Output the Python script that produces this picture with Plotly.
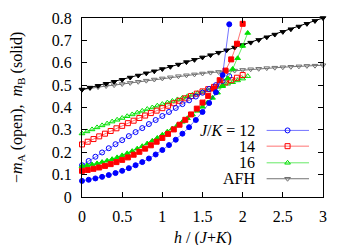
import plotly.graph_objects as go

# ---------------- data ----------------
h12 = [0, 0.083, 0.167, 0.25, 0.333, 0.417, 0.5, 0.583, 0.667, 0.75, 0.833, 0.917,
       1.0, 1.083, 1.167, 1.25, 1.333, 1.417, 1.5, 1.583, 1.667, 1.75, 1.833]
mB12 = [0.072, 0.077, 0.083, 0.090, 0.098, 0.107, 0.117, 0.129, 0.142, 0.156, 0.172, 0.190,
        0.210, 0.232, 0.256, 0.283, 0.312, 0.344, 0.380, 0.420, 0.468, 0.545, 0.772]
mA12 = [0.142, 0.161, 0.180, 0.199, 0.218, 0.236, 0.254, 0.272, 0.290, 0.308, 0.326, 0.344,
        0.362, 0.380, 0.398, 0.415, 0.432, 0.449, 0.466, 0.483, 0.500, 0.518, 0.540]

h14 = [0, 0.071, 0.143, 0.214, 0.286, 0.357, 0.429, 0.5, 0.571, 0.643, 0.714, 0.786,
       0.857, 0.929, 1.0, 1.071, 1.143, 1.214, 1.286, 1.357, 1.429, 1.5, 1.571, 1.643,
       1.714, 1.786, 1.857, 1.929, 2.0]
mB14 = [0.117, 0.121, 0.126, 0.132, 0.139, 0.147, 0.156, 0.166, 0.177, 0.189, 0.202, 0.216,
        0.231, 0.247, 0.264, 0.282, 0.302, 0.323, 0.345, 0.369, 0.395, 0.422, 0.452, 0.485,
        0.522, 0.565, 0.615, 0.685, 0.774]
mA14 = [0.235, 0.247, 0.259, 0.271, 0.283, 0.295, 0.307, 0.318, 0.330, 0.341, 0.353, 0.364,
        0.375, 0.386, 0.397, 0.408, 0.419, 0.430, 0.441, 0.451, 0.462, 0.472, 0.482, 0.492,
        0.502, 0.512, 0.522, 0.533, 0.545]

h16 = [0, 0.0625, 0.125, 0.1875, 0.25, 0.3125, 0.375, 0.4375, 0.5, 0.5625, 0.625, 0.6875,
       0.75, 0.8125, 0.875, 0.9375, 1.0, 1.0625, 1.125, 1.1875, 1.25, 1.3125, 1.375, 1.4375,
       1.5, 1.5625, 1.625, 1.6875, 1.75, 1.8125, 1.875, 1.9375, 2.0, 2.0625]
mB16 = [0.138, 0.141, 0.145, 0.150, 0.156, 0.162, 0.169, 0.177, 0.186, 0.195, 0.205, 0.216,
        0.227, 0.239, 0.251, 0.264, 0.278, 0.292, 0.306, 0.321, 0.336, 0.352, 0.368, 0.385,
        0.403, 0.422, 0.443, 0.466, 0.495, 0.530, 0.572, 0.620, 0.675, 0.733]
mA16 = [0.284, 0.293, 0.302, 0.311, 0.320, 0.328, 0.337, 0.345, 0.353, 0.361, 0.369, 0.377,
        0.385, 0.393, 0.400, 0.408, 0.415, 0.422, 0.429, 0.436, 0.443, 0.450, 0.457, 0.464,
        0.471, 0.478, 0.485, 0.492, 0.499, 0.506, 0.513, 0.521, 0.529, 0.540]

hAFH = [0, 0.1, 0.2, 0.3, 0.4, 0.5, 0.6, 0.7, 0.8, 0.9, 1.0, 1.1, 1.2, 1.3, 1.4, 1.5,
        1.6, 1.7, 1.8, 1.9, 2.0, 2.1, 2.2, 2.3, 2.4, 2.5, 2.6, 2.7, 2.8, 2.9, 3.0]
mBAFH = [0.480, 0.489, 0.497, 0.506, 0.515, 0.524, 0.534, 0.543, 0.553, 0.562, 0.572,
         0.582, 0.592, 0.603, 0.613, 0.624, 0.634, 0.645, 0.656, 0.668, 0.679, 0.690,
         0.702, 0.714, 0.726, 0.738, 0.750, 0.762, 0.774, 0.787, 0.800]
mAAFH = [0.480, 0.486, 0.491, 0.496, 0.500, 0.505, 0.510, 0.515, 0.520, 0.525, 0.530,
         0.535, 0.540, 0.544, 0.548, 0.552, 0.556, 0.559, 0.562, 0.565, 0.568, 0.571,
         0.573, 0.576, 0.578, 0.580, 0.582, 0.584, 0.586, 0.587, 0.589]

legend_labels = ["<i>J</i>/<i>K</i> = 12", "14", "16", "AFH"]
x_ticks = [0, 0.5, 1, 1.5, 2, 2.5, 3]
x_ticklabels = ["0", "0.5", "1", "1.5", "2", "2.5", "3"]
y_ticks = [0, 0.1, 0.2, 0.3, 0.4, 0.5, 0.6, 0.7, 0.8]
y_ticklabels = ["0", "0.1", "0.2", "0.3", "0.4", "0.5", "0.6", "0.7", "0.8"]

# ---------------- styles ----------------
BLUE, RED, GREEN, BLACK, GRAY = "#0000ff", "#ff0000", "#00e000", "#000000", "#707070"
LBLUE, LRED, LGREEN, LGRAY = "rgba(0,0,255,0.55)", "rgba(255,0,0,0.55)", "rgba(0,220,0,0.6)", "rgba(80,80,80,0.8)"
FONT = "Liberation Serif, Times New Roman, serif"
MS = 5

fig = go.Figure()

series = [
    (hAFH, mAAFH, LGRAY, GRAY, "triangle-down-open"),
    (hAFH, mBAFH, BLACK, BLACK, "triangle-down"),
    (h16, mA16, LGREEN, GREEN, "triangle-up-open"),
    (h14, mA14, LRED, RED, "square-open"),
    (h12, mA12, LBLUE, BLUE, "circle-open"),
    (h16, mB16, LGREEN, GREEN, "triangle-up"),
    (h14, mB14, LRED, RED, "square"),
    (h12, mB12, LBLUE, BLUE, "circle"),
]
for xs, ys, lc, mc, sym in series:
    fig.add_trace(go.Scatter(
        x=xs, y=ys, mode="lines+markers",
        line=dict(color=lc, width=1),
        marker=dict(symbol=sym, size=MS, color=mc, line=dict(color=mc, width=1)),
        showlegend=False, xaxis="x", yaxis="y", cliponaxis=False))

# custom legend (text left, sample right) drawn on an overlay axis
leg_rows = [0.372, 0.284, 0.191, 0.102]
leg_styles = [(LBLUE, BLUE, "circle-open"), (LRED, RED, "square-open"),
              (LGREEN, GREEN, "triangle-up-open"), (LGRAY, GRAY, "triangle-down-open")]
for ry, (lc, mc, sym), lab in zip(leg_rows, leg_styles, legend_labels):
    fig.add_trace(go.Scatter(x=[0.766, 0.942], y=[ry, ry], mode="lines",
                             line=dict(color=lc, width=1), showlegend=False,
                             xaxis="x2", yaxis="y2", hoverinfo="skip"))
    fig.add_trace(go.Scatter(x=[0.853], y=[ry], mode="markers",
                             marker=dict(symbol=sym, size=MS, color=mc, line=dict(color=mc, width=1)),
                             showlegend=False, xaxis="x2", yaxis="y2", hoverinfo="skip"))
    fig.add_annotation(x=0.727, y=ry, xref="paper", yref="paper", text=lab,
                       showarrow=False, xanchor="right", yanchor="middle",
                       font=dict(family=FONT, size=16, color="black"))

axis_common = dict(showline=True, linecolor="black", linewidth=1, mirror="ticks",
                   ticks="inside", ticklen=5, tickcolor="black", showgrid=False,
                   zeroline=False, automargin=False,
                   tickfont=dict(family=FONT, size=16, color="black"))

# page has an 8px body margin: figure is sized to fit the 349x245 window
fig.update_layout(
    width=341, height=237,
    margin=dict(l=74, r=26, t=10, b=48),
    paper_bgcolor="white", plot_bgcolor="white",
    font=dict(family=FONT, size=16, color="black"),
    xaxis=dict(range=[0, 3], tickvals=x_ticks, ticktext=x_ticklabels,
               ticklabelstandoff=5, **axis_common),
    yaxis=dict(range=[0, 0.8], tickvals=y_ticks, ticktext=y_ticklabels,
               ticklabelstandoff=6, **axis_common),
    xaxis2=dict(range=[0, 1], overlaying="x", visible=False, fixedrange=True, automargin=False),
    yaxis2=dict(range=[0, 1], overlaying="y", visible=False, fixedrange=True, automargin=False),
    showlegend=False,
)

fig.add_annotation(x=0.5, y=-0.228, xref="paper", yref="paper",
                   text="<i>h</i> / (<i>J</i>+<i>K</i>)", showarrow=False,
                   xanchor="center", yanchor="middle",
                   font=dict(family=FONT, size=16, color="black"))
fig.add_annotation(x=-0.268, y=0.5, xref="paper", yref="paper",
                   text="−<i>m</i><sub>A</sub> (open),  <i>m</i><sub>B</sub> (solid)",
                   showarrow=False, textangle=-90, xanchor="center", yanchor="middle",
                   font=dict(family=FONT, size=16, color="black"))

fig.write_html("out.html")
